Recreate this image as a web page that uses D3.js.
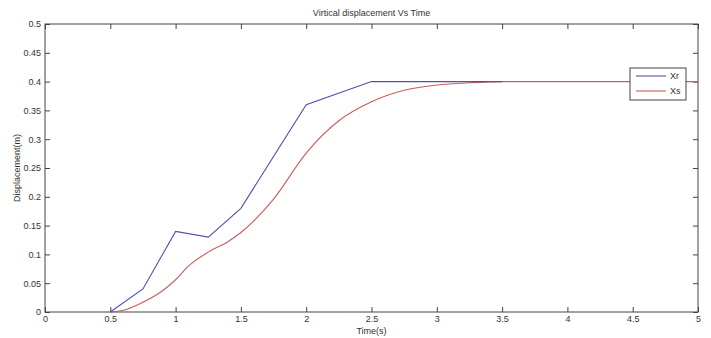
<!DOCTYPE html>
<html>
<head>
<meta charset="utf-8">
<script src="https://cdn.jsdelivr.net/npm/d3@7"></script>
<style>
  body { margin: 0; background: #fff; }
  svg text { font-family: "Liberation Sans", Arial, sans-serif; fill: #333; }
</style>
</head>
<body>
<svg width="711" height="338"></svg>
<script>
// data
let xrTime = [0.5, 0.75, 1, 1.25, 1.5, 2, 2.5, 3.5]
let xrVal  = [0, 0.04, 0.14, 0.13, 0.18, 0.36, 0.4, 0.4]

let xsTime = [0.5, 0.6, 0.75, 0.9, 1, 1.1, 1.25, 1.4, 1.5, 1.75, 2, 2.25, 2.5, 2.75, 3, 3.25, 3.5, 4, 5]
let xsVal  = [0, 0.003, 0.017, 0.037, 0.056, 0.08, 0.104, 0.122, 0.138, 0.196, 0.276, 0.332, 0.365, 0.385, 0.394, 0.398, 0.4, 0.4, 0.4]

let xTicks = [0, 0.5, 1, 1.5, 2, 2.5, 3, 3.5, 4, 4.5, 5]
let yTicks = [0, 0.05, 0.1, 0.15, 0.2, 0.25, 0.3, 0.35, 0.4, 0.45, 0.5]

let legendNames = ['Xr', 'Xs']
let colores = {Xr: '#5050b0', Xs: '#cc5a5a'}

let svg = d3.select('svg')
let m = {top: 24, right: 13, bottom: 26, left: 45}
let w = 711 - m.left - m.right
let h = 338 - m.top - m.bottom

let x = d3.scaleLinear().domain([0, 5]).range([0, w])
let y = d3.scaleLinear().domain([0, 0.5]).range([h, 0])

let g = svg.append('g').attr('transform', `translate(${m.left},${m.top})`)

let fmt = d => d === 0 ? '0' : String(+d.toFixed(2))

// ejes, ticks hacia adentro
let axB = g.append('g').attr('transform', `translate(0,${h})`)
  .call(d3.axisBottom(x).tickValues(xTicks).tickFormat(fmt).tickSizeInner(-5).tickSizeOuter(0).tickPadding(4))
let axL = g.append('g')
  .call(d3.axisLeft(y).tickValues(yTicks).tickFormat(fmt).tickSizeInner(-5).tickSizeOuter(0).tickPadding(4))
let axT = g.append('g')
  .call(d3.axisTop(x).tickValues(xTicks).tickFormat('').tickSizeInner(-5).tickSizeOuter(0))
let axR = g.append('g').attr('transform', `translate(${w},0)`)
  .call(d3.axisRight(y).tickValues(yTicks).tickFormat('').tickSizeInner(-5).tickSizeOuter(0))

;[axB, axL, axT, axR].forEach(a => {
  a.select('.domain').remove()
  a.selectAll('line').attr('stroke', '#444')
  a.selectAll('text').attr('font-size', 9).attr('fill', '#333').style('font-family', '"Liberation Sans", Arial, sans-serif')
})

g.append('rect').attr('width', w).attr('height', h)
  .attr('fill', 'none').attr('stroke', '#444').attr('stroke-width', 1)

// lineas
let xsLinea = d3.line().x(d => x(d[0])).y(d => y(d[1])).curve(d3.curveMonotoneX)
let xrLinea = d3.line().x(d => x(d[0])).y(d => y(d[1]))

g.append('path')
  .datum(xsTime.map((t, i) => [t, xsVal[i]]))
  .attr('fill', 'none').attr('stroke', colores.Xs).attr('stroke-width', 1.1)
  .attr('d', xsLinea)

g.append('path')
  .datum(xrTime.map((t, i) => [t, xrVal[i]]))
  .attr('fill', 'none').attr('stroke', colores.Xr).attr('stroke-width', 1.1)
  .attr('d', xrLinea)

// textos
svg.append('text').attr('x', m.left + w / 2).attr('y', 16)
  .attr('text-anchor', 'middle').attr('font-size', 9).text('Virtical displacement Vs Time')
svg.append('text').attr('x', m.left + w / 2).attr('y', 334)
  .attr('text-anchor', 'middle').attr('font-size', 9).text('Time(s)')
svg.append('text').attr('transform', `translate(20,${m.top + h / 2}) rotate(-90)`)
  .attr('text-anchor', 'middle').attr('font-size', 9).text('Displacement(m)')

// leyenda
let leg = svg.append('g').attr('transform', 'translate(630,68)')
leg.append('rect').attr('width', 56).attr('height', 32)
  .attr('fill', '#fff').attr('stroke', '#444')
legendNames.forEach((n, i) => {
  leg.append('line').attr('x1', 6).attr('x2', 36).attr('y1', 8 + i * 15).attr('y2', 8 + i * 15)
    .attr('stroke', colores[n]).attr('stroke-width', 1.1)
  leg.append('text').attr('x', 40).attr('y', 11 + i * 15).attr('font-size', 9).text(n)
})
</script>
</body>
</html>
